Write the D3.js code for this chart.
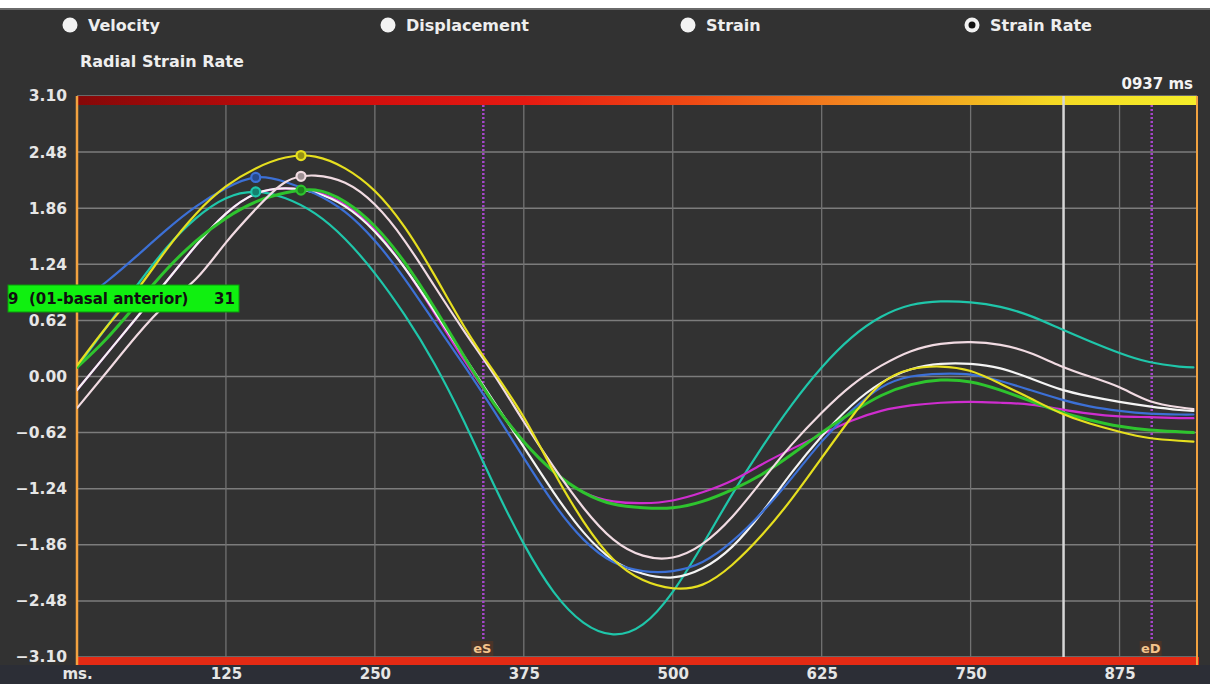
<!DOCTYPE html>
<html>
<head>
<meta charset="utf-8">
<script src="https://cdn.jsdelivr.net/npm/d3@7"></script>
<style>
	body { margin: 0; background: #333333; }
	svg { display: block; font-family: "DejaVu Sans", Verdana, sans-serif; font-weight: bold; }
</style>
</head>
<body>
<div id="chart"></div>
<script>
// time axis (ms) shared by every segment curve
var times = [0, 25, 50, 75, 100, 125, 150, 175, 200, 225, 250, 275, 300, 325, 350, 375, 400, 425, 450, 475,
	500, 525, 550, 575, 600, 625, 650, 675, 700, 725, 750, 775, 800, 825, 850, 875, 900, 925, 937];

// radial strain rate per segment
var tealValues = [0.10, 0.55, 1.00, 1.42, 1.75, 1.97, 2.04, 1.97, 1.80, 1.52, 1.14, 0.68, 0.14, -0.50, -1.20, -1.85, -2.38, -2.72, -2.85, -2.74,
	-2.38, -1.86, -1.30, -0.78, -0.31, 0.10, 0.43, 0.66, 0.79, 0.83, 0.82, 0.77, 0.67, 0.53, 0.39, 0.26, 0.16, 0.11, 0.10];
var magentaValues = [-0.15, 0.25, 0.65, 1.05, 1.45, 1.80, 2.02, 2.08, 2.04, 1.90, 1.62, 1.20, 0.70, 0.18, -0.30, -0.72, -1.05, -1.28, -1.38, -1.40,
	-1.37, -1.28, -1.15, -0.97, -0.80, -0.64, -0.49, -0.38, -0.32, -0.29, -0.28, -0.29, -0.31, -0.36, -0.41, -0.44, -0.45, -0.46, -0.46];
var whiteValues = [-0.15, 0.25, 0.65, 1.05, 1.45, 1.80, 2.02, 2.08, 2.03, 1.88, 1.60, 1.20, 0.72, 0.22, -0.28, -0.78, -1.28, -1.72, -2.03, -2.18,
	-2.22, -2.12, -1.88, -1.50, -1.06, -0.66, -0.32, -0.07, 0.08, 0.14, 0.14, 0.09, -0.02, -0.14, -0.22, -0.28, -0.33, -0.37, -0.38];
var blueValues = [0.80, 1.05, 1.33, 1.62, 1.88, 2.08, 2.20, 2.15, 2.02, 1.82, 1.50, 1.08, 0.60, 0.12, -0.38, -0.90, -1.40, -1.80, -2.05, -2.15,
	-2.15, -2.05, -1.82, -1.50, -1.12, -0.72, -0.38, -0.12, 0.00, 0.03, 0.02, -0.05, -0.15, -0.25, -0.33, -0.38, -0.41, -0.42, -0.42];
var greenValues = [0.10, 0.42, 0.80, 1.18, 1.50, 1.75, 1.93, 2.03, 2.06, 1.93, 1.66, 1.26, 0.76, 0.22, -0.30, -0.72, -1.05, -1.28, -1.41, -1.45,
	-1.45, -1.38, -1.25, -1.08, -0.86, -0.62, -0.40, -0.21, -0.09, -0.04, -0.06, -0.15, -0.27, -0.39, -0.48, -0.55, -0.59, -0.61, -0.62];
var pinkValues = [-0.35, 0.05, 0.45, 0.80, 1.08, 1.48, 1.85, 2.15, 2.22, 2.14, 1.90, 1.50, 1.00, 0.50, 0.02, -0.50, -1.00, -1.45, -1.80, -1.98,
	-2.00, -1.85, -1.55, -1.15, -0.75, -0.40, -0.10, 0.12, 0.28, 0.36, 0.38, 0.35, 0.26, 0.12, 0.00, -0.12, -0.27, -0.34, -0.36];
var yellowValues = [0.12, 0.55, 0.95, 1.40, 1.80, 2.10, 2.30, 2.42, 2.43, 2.30, 2.05, 1.65, 1.12, 0.55, 0.05, -0.45, -1.05, -1.60, -2.02, -2.25,
	-2.34, -2.30, -2.08, -1.75, -1.35, -0.90, -0.45, -0.08, 0.08, 0.11, 0.06, -0.08, -0.24, -0.40, -0.52, -0.61, -0.68, -0.71, -0.72];

var seriesNames = ["teal", "magenta", "white", "blue", "green", "pink", "yellow"];
var seriesValues = [tealValues, magentaValues, whiteValues, blueValues, greenValues, pinkValues, yellowValues];
var seriesColors = ["#1fc6aa", "#cf2dcf", "#f4f4f4", "#3c70d6", "#2ec42e", "#f1dbe2", "#e6df1f"];
// peak markers (ms) per segment, null = none
var markerTimes = [150, null, null, 150, 188, 188, 188];

var yTicks = [3.10, 2.48, 1.86, 1.24, 0.62, 0.00, -0.62, -1.24, -1.86, -2.48, -3.10];
var xTicks = [125, 250, 375, 500, 625, 750, 875];
var modes = ["Velocity", "Displacement", "Strain", "Strain Rate"];
var selectedMode = "Strain Rate";
var events = [{ name: "eS", time: 341 }, { name: "eD", time: 902 }];
var cursorTime = 828;
var cursorLabel = "0937 ms";
var segmentLabel = ["9", "(01-basal anterior)", "31"];
var title = "Radial Strain Rate";

var width = 1210, height = 684;
var plot = { left: 77, right: 1197, top: 96, bottom: 657 };
var fontFamily = "'DejaVu Sans', Verdana, sans-serif";

var svg = d3.select("#chart").append("svg")
	.attr("width", width)
	.attr("height", height);

svg.append("rect").attr("width", width).attr("height", height).attr("fill", "#323232");
svg.append("rect").attr("width", width).attr("height", 8).attr("fill", "#ffffff");
svg.append("rect").attr("y", 8).attr("width", width).attr("height", 2).attr("fill", "#6a6a6a");
svg.append("rect").attr("y", plot.bottom + 8).attr("width", width).attr("height", height - plot.bottom - 8).attr("fill", "#2c2e36");

var x = d3.scaleLinear().domain([0, 940]).range([plot.left, plot.right]);
var y = d3.scaleLinear().domain([-3.10, 3.10]).range([plot.bottom, plot.top]);

// mode radio buttons
var modeX = d3.scaleOrdinal().domain(modes).range([70, 388, 688, 972]);
var radio = svg.append("g").selectAll("g").data(modes).enter().append("g")
	.attr("transform", function(d) { return "translate(" + modeX(d) + ",25)"; });
radio.append("circle").attr("r", 7.5).attr("fill", "#f2f2f2");
radio.filter(function(d) { return d === selectedMode; }).append("circle").attr("r", 3.5).attr("fill", "#111");
radio.append("text").attr("x", 18).attr("y", 6).attr("fill", "#eeeeee").attr("font-size", 16).text(function(d) { return d; });

svg.append("text").attr("x", 80).attr("y", 67).attr("fill", "#eeeeee").attr("font-size", 16).text(title);
svg.append("text").attr("x", plot.right - 4).attr("y", 89).attr("text-anchor", "end")
	.attr("fill", "#f4f4f4").attr("font-size", 15).text(cursorLabel);

// grid
var grid = svg.append("g");
grid.selectAll(".hgrid").data(yTicks).enter().append("line")
	.attr("x1", plot.left).attr("x2", plot.right)
	.attr("y1", function(d) { return y(d); }).attr("y2", function(d) { return y(d); })
	.attr("stroke", "#7c7c7c").attr("stroke-width", 1.5);
grid.selectAll(".vgrid").data(xTicks).enter().append("line")
	.attr("x1", function(d) { return x(d); }).attr("x2", function(d) { return x(d); })
	.attr("y1", plot.top).attr("y2", plot.bottom)
	.attr("stroke", "#727272").attr("stroke-width", 1.3);

// axes
var yAxis = d3.axisLeft(y).tickValues(yTicks).tickSize(0).tickFormat(d3.format(".2f"));
var gy = svg.append("g").attr("transform", "translate(" + (plot.left - 7) + ",0)").call(yAxis)
	.attr("font-family", fontFamily).attr("font-size", 15.5);
gy.select(".domain").remove();
gy.selectAll("text").attr("fill", "#e6e6e6");

var xAxis = d3.axisBottom(x).tickValues([0].concat(xTicks)).tickSize(0)
	.tickFormat(function(d) { return d === 0 ? "ms." : d; });
var gx = svg.append("g").attr("transform", "translate(0," + (plot.bottom + 7) + ")").call(xAxis)
	.attr("font-family", fontFamily).attr("font-size", 15);
gx.select(".domain").remove();
gx.selectAll("text").attr("fill", "#e6e6e6").attr("dy", "0.8em");

// top gradient bar
var grad = svg.append("defs").append("linearGradient").attr("id", "timeGrad");
[["0%", "#850808"], ["22%", "#cc0c0c"], ["40%", "#e61a12"], ["55%", "#ef4a14"], ["68%", "#f2801e"],
	["80%", "#f3b420"], ["87%", "#f4d823"], ["100%", "#f5ee2a"]].forEach(function(s) {
	grad.append("stop").attr("offset", s[0]).attr("stop-color", s[1]);
});
svg.append("rect").attr("x", plot.left).attr("y", plot.top).attr("width", plot.right - plot.left).attr("height", 9)
	.attr("fill", "url(#timeGrad)");
svg.append("rect").attr("x", plot.left).attr("y", plot.bottom).attr("width", plot.right - plot.left + 2).attr("height", 8)
	.attr("fill", "#e32a14");
svg.append("line").attr("x1", plot.left).attr("x2", plot.left).attr("y1", plot.top).attr("y2", plot.bottom + 8)
	.attr("stroke", "#f2a240").attr("stroke-width", 2.5);
svg.append("line").attr("x1", plot.right).attr("x2", plot.right).attr("y1", plot.top).attr("y2", plot.bottom + 8)
	.attr("stroke", "#f2a240").attr("stroke-width", 2);

// event markers
var ev = svg.append("g").selectAll("g").data(events).enter().append("g");
ev.append("line")
	.attr("x1", function(d) { return x(d.time); }).attr("x2", function(d) { return x(d.time); })
	.attr("y1", plot.top + 9).attr("y2", plot.bottom - 16)
	.attr("stroke", "#a646cc").attr("stroke-width", 2.5).attr("stroke-dasharray", "2,2");
ev.append("rect")
	.attr("x", function(d) { return x(d.time) - 12; }).attr("y", plot.bottom - 16)
	.attr("width", 22).attr("height", 15).attr("fill", "#4a3428");
ev.append("text")
	.attr("x", function(d) { return x(d.time) - 1; }).attr("y", plot.bottom - 4)
	.attr("text-anchor", "middle").attr("fill", "#f4c48c").attr("font-size", 13)
	.text(function(d) { return d.name; });

// time cursor
svg.append("line").attr("x1", x(cursorTime)).attr("x2", x(cursorTime)).attr("y1", plot.top).attr("y2", plot.bottom)
	.attr("stroke", "#d6d6d6").attr("stroke-width", 2.5);

// curves
svg.append("clipPath").attr("id", "plotClip").append("rect")
	.attr("x", plot.left).attr("y", plot.top + 9).attr("width", plot.right - plot.left).attr("height", plot.bottom - plot.top - 9);

var line = d3.line()
	.x(function(d) { return x(d[0]); })
	.y(function(d) { return y(d[1]); })
	.curve(d3.curveNatural);

var curves = svg.append("g").attr("clip-path", "url(#plotClip)");
var paths = [];
seriesValues.forEach(function(vals, i) {
	var pts = times.map(function(t, j) { return [t, vals[j]]; });
	var p = curves.append("path")
		.datum(pts)
		.attr("class", "segment " + seriesNames[i])
		.attr("d", line)
		.attr("fill", "none")
		.attr("stroke", seriesColors[i])
		.attr("stroke-width", seriesNames[i] === "green" ? 3 : 2.2)
		.attr("stroke-linejoin", "round")
		.attr("stroke-linecap", "round");
	paths.push(p.node());
});

// find the point on a path at a given screen x
function pointAtX(node, px) {
	var lo = 0, hi = node.getTotalLength(), p = node.getPointAtLength(0);
	for (var k = 0; k < 40; k++) {
		var mid = (lo + hi) / 2;
		p = node.getPointAtLength(mid);
		if (p.x < px) { lo = mid; } else { hi = mid; }
	}
	return p;
}

markerTimes.forEach(function(t, i) {
	if (t === null) { return; }
	var p = pointAtX(paths[i], x(t));
	curves.append("circle")
		.attr("cx", p.x).attr("cy", p.y).attr("r", 4.5)
		.attr("fill", d3.color(seriesColors[i]).darker(1.2))
		.attr("stroke", seriesColors[i]).attr("stroke-width", 2.2);
});

// selected segment label
var lab = svg.append("g").attr("transform", "translate(8,285)");
lab.append("rect").attr("width", 231).attr("height", 27).attr("fill", "#10f010").attr("stroke", "#0a9a0a").attr("stroke-width", 1);
lab.append("text").attr("x", 0).attr("y", 19).attr("font-size", 15).attr("fill", "#101010").text(segmentLabel[0]);
lab.append("text").attr("x", 21).attr("y", 19).attr("font-size", 15).attr("fill", "#101010").text(segmentLabel[1]);
lab.append("text").attr("x", 206).attr("y", 19).attr("font-size", 15).attr("fill", "#101010").text(segmentLabel[2]);
</script>
</body>
</html>
